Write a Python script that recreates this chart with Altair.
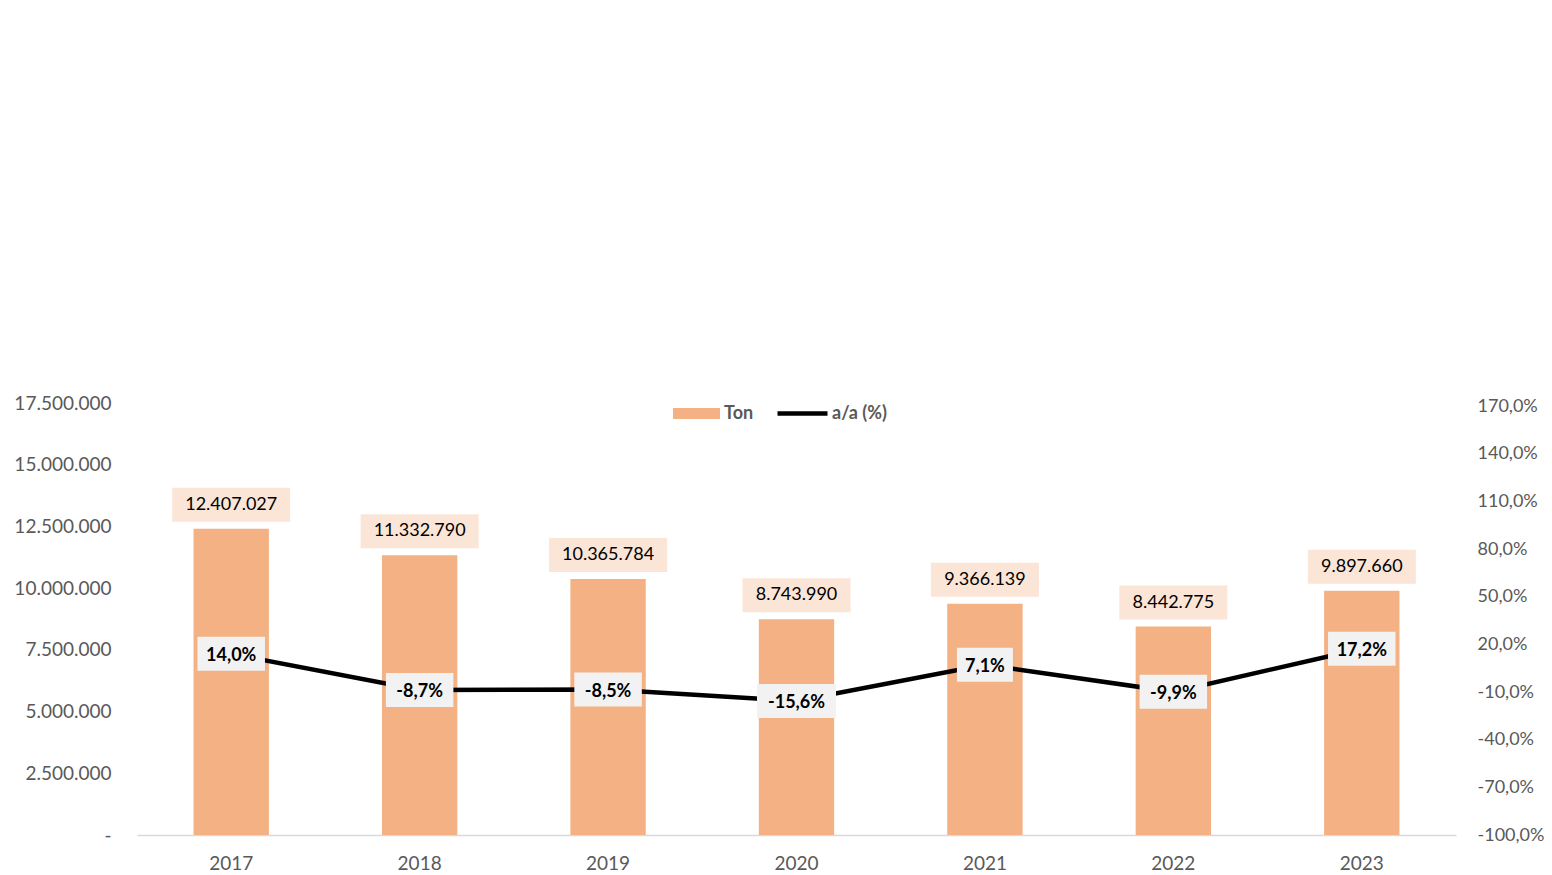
import altair as alt
import pandas as pd

years = ["2017", "2018", "2019", "2020", "2021", "2022", "2023"]
ton = [12407027, 11332790, 10365784, 8743990, 9366139, 8442775, 9897660]
pct = [14.0, -8.7, -8.5, -15.6, 7.1, -9.9, 17.2]

left_ticks = [0, 2500000, 5000000, 7500000, 10000000, 12500000, 15000000, 17500000]
right_ticks = [-100, -70, -40, -10, 20, 50, 80, 110, 140, 170]

df = pd.DataFrame({"year": years, "ton": ton, "pct": pct})

FONT = "Lato"
GREY = "#595959"

x_enc = alt.X(
    "year:N",
    sort=years,
    title=None,
    scale=alt.Scale(paddingInner=0.6, paddingOuter=0.3),
    axis=alt.Axis(
        labelAngle=0, ticks=False, domain=True, domainColor="#D9D9D9",
        domainWidth=1.5, labelFontSize=19, labelColor=GREY, labelFont=FONT,
        labelPadding=19,
    ),
)

yl_scale = alt.Scale(domain=[0, 17500000], nice=False, zero=True)
yr_scale = alt.Scale(domain=[-100, 171.9], nice=False, zero=False)

left_axis = alt.Axis(
    values=left_ticks, grid=False, ticks=False, domain=False,
    labelFontSize=19, labelColor=GREY, labelFont=FONT, labelPadding=26,
    labelExpr="datum.value == 0 ? '-' : replace(format(datum.value, ','), /,/g, '.')",
)
right_axis = alt.Axis(
    orient="right", values=right_ticks, grid=False, ticks=False, domain=False,
    labelFontSize=18, labelColor=GREY, labelFont=FONT, labelPadding=21,
    labelExpr="replace(replace(format(datum.value, '.1f'), '.', ','), '\u2212', '-') + '%'",
)

base = alt.Chart(df).transform_calculate(
    ton_lbl="replace(format(datum.ton, ','), /,/g, '.')",
    pct_lbl="replace(replace(format(datum.pct, '.1f'), '.', ','), '\u2212', '-') + '%'",
    s1="'Ton'",
    s2="'a/a (%)'",
)

yl = alt.Y("ton:Q", scale=yl_scale, title=None, axis=left_axis)
yr = alt.Y("pct:Q", scale=yr_scale, title=None, axis=right_axis)

bars = base.mark_bar(opacity=1).encode(
    x=x_enc,
    y=yl,
    fill=alt.Fill(
        "s1:N", title=None,
        scale=alt.Scale(domain=["Ton"], range=["#F4B183"]),
        legend=alt.Legend(
            orient="none", legendX=536, legendY=-13,
            symbolType="M-1,-0.234H1V0.234H-1Z", symbolSize=2209,
            symbolStrokeWidth=0, labelFont=FONT, labelFontSize=18,
            labelFontWeight="bold", labelColor=GREY, labelOffset=4,
        ),
    ),
)

bar_box = base.mark_point(filled=True, fill="#FBE5D6", opacity=1, strokeWidth=0, yOffset=-24).transform_calculate(
    hw="5*length(datum.ton_lbl) + 9",
).transform_calculate(
    path="'M' + (-datum.hw) + ',-17H' + datum.hw + 'V17H' + (-datum.hw) + 'Z'",
).encode(
    x=x_enc,
    y=yl,
    shape=alt.Shape("path:N", scale=None, legend=None),
    size=alt.value(4),
)

bar_text = base.mark_text(font=FONT, fontSize=18, color="#000000", yOffset=-24, baseline="middle").encode(
    x=x_enc,
    y=yl,
    text="ton_lbl:N",
)

left = alt.layer(bars, bar_box, bar_text)

line = base.mark_line(strokeWidth=4.5).encode(
    x=x_enc,
    y=yr,
    stroke=alt.Stroke(
        "s2:N", title=None,
        scale=alt.Scale(domain=["a/a (%)"], range=["#000000"]),
        legend=alt.Legend(
            orient="none", legendX=638, legendY=-17,
            symbolType="stroke", symbolSize=2500, symbolStrokeWidth=4.5,
            labelFont=FONT, labelFontSize=18, labelFontWeight="bold",
            labelColor=GREY, labelOffset=2,
        ),
    ),
)

pct_box = base.mark_point(filled=True, fill="#F2F2F2", opacity=1, strokeWidth=0).transform_calculate(
    hw="(11.5*length(datum.pct_lbl) + 10) / 2",
).transform_calculate(
    path="'M' + (-datum.hw) + ',-17H' + datum.hw + 'V17H' + (-datum.hw) + 'Z'",
).encode(
    x=x_enc,
    y=yr,
    shape=alt.Shape("path:N", scale=None, legend=None),
    size=alt.value(4),
)

pct_text = base.mark_text(font=FONT, fontSize=18, fontWeight="bold", color="#000000", baseline="middle", dy=2).encode(
    x=x_enc,
    y=yr,
    text="pct_lbl:N",
)

right = alt.layer(line, pct_box, pct_text)

chart = alt.layer(left, right).resolve_scale(
    y="independent", fill="independent", stroke="independent"
).resolve_axis(y="independent").properties(
    width=1319,
    height=432,
    padding={"left": 129, "top": 395, "right": 88, "bottom": 40},
    autosize=alt.AutoSizeParams(type="none"),
    background="#FFFFFF",
).configure_view(stroke=None)

chart.save("out.html", embed_options={"renderer": "svg", "actions": False})
